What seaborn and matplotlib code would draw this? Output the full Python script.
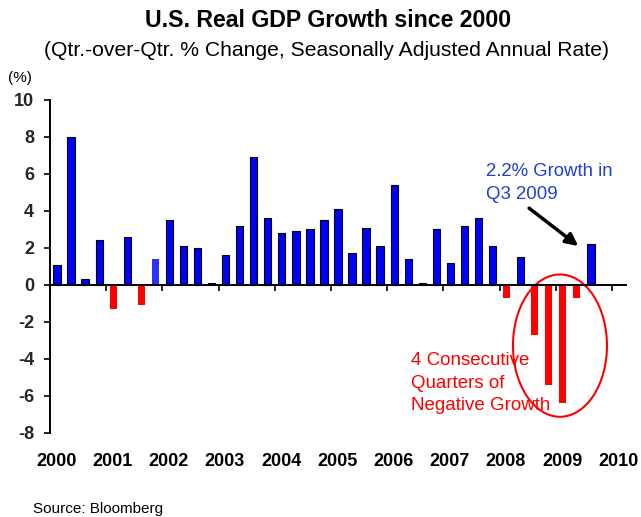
import numpy as np
import pandas as pd
import matplotlib
matplotlib.use("Agg")
import matplotlib.pyplot as plt
import matplotlib.transforms as mtransforms
from matplotlib.patches import Ellipse
import seaborn as sns

# ---- data ----
growth = [1.1, 8.0, 0.3, 2.4, -1.3, 2.6, -1.1, 1.4,
          3.5, 2.1, 2.0, 0.1, 1.6, 3.2, 6.9, 3.6,
          2.8, 2.9, 3.0, 3.5, 4.1, 1.7, 3.1, 2.1,
          5.4, 1.4, 0.1, 3.0, 1.2, 3.2, 3.6, 2.1,
          -0.7, 1.5, -2.7, -5.4, -6.4, -0.7, 2.2]
kinds = ["pos" if v >= 0 else "neg" for v in growth]
kinds[7] = "pos_light"
years = [2000, 2001, 2002, 2003, 2004, 2005, 2006, 2007, 2008, 2009, 2010]
yticks = [-8, -6, -4, -2, 0, 2, 4, 6, 8, 10]

quarter_pos = [i + 0.5 for i in range(len(growth))]
df = pd.DataFrame({"pos": quarter_pos, "growth": growth, "kind": kinds})

sns.set_theme(style="white")
plt.rcParams["font.family"] = ["Liberation Sans", "DejaVu Sans"]

W, H = 641, 517
fig = plt.figure(figsize=(W / 100, H / 100), dpi=100)
ax = fig.add_axes([50 / W, 1 - 432.7 / H, (626 - 50) / W, (432.7 - 100) / H])

palette = {"pos": "#0000FF", "pos_light": "#2E2EFF", "neg": "#FF0000"}
sns.barplot(data=df, x="pos", y="growth", hue="kind", palette=palette,
            native_scale=True, dodge=False, width=0.52, saturation=1,
            legend=False, ax=ax)

for p in ax.patches:
    fc = p.get_facecolor()
    if fc[2] > 0.99 and fc[0] < 0.05:
        p.set_edgecolor("black")
        p.set_linewidth(0.8)
    else:
        p.set_edgecolor("none")
        p.set_linewidth(0)

ax.set_xlim(0, 41)
ax.set_ylim(-8, 10)
ax.set_xlabel("")
ax.set_ylabel("")

for s in ["top", "right"]:
    ax.spines[s].set_visible(False)
ax.spines["bottom"].set_position(("data", 0))
ax.spines["bottom"].set_color("black")
ax.spines["bottom"].set_linewidth(1.4)
ax.spines["left"].set_color("black")
ax.spines["left"].set_linewidth(1.4)
ax.set_zorder(1)

year_pos = [4 * i for i in range(len(years))]
ax.set_xticks(year_pos)
ax.set_xticklabels([""] * len(years))
ax.tick_params(axis="x", direction="out", length=4.5, width=1.2, color="black", bottom=True)
ax.set_yticks(yticks)
ax.set_yticklabels([str(t) for t in yticks], fontsize=13, fontweight="bold")
ax.tick_params(axis="y", direction="out", length=4.5, width=1.2, color="black", pad=7, left=True)

trans = mtransforms.blended_transform_factory(ax.transData, ax.transAxes)
for yp, yr in zip(year_pos, years):
    ax.text(yp + 0.45, -0.088, str(yr), transform=trans, ha="center", va="center",
            fontsize=13, fontweight="bold", color="black")

# annotations
ax.text(31.0, 5.88, "2.2% Growth in", color="#1F3FD6", fontsize=13.4, va="baseline", ha="left")
ax.text(31.0, 4.67, "Q3 2009", color="#1F3FD6", fontsize=13.4, va="baseline", ha="left")
ax.annotate("", xy=(37.6, 2.1), xytext=(34.1, 4.15),
            arrowprops=dict(arrowstyle="-|>,head_length=0.6,head_width=0.3",
                            color="black", lw=2.5, shrinkA=0, shrinkB=0))

for yv, line in zip([-4.34, -5.56, -6.78], ["4 Consecutive", "Quarters of", "Negative Growth"]):
    ax.text(25.7, yv, line, color="#FF0000", fontsize=13.5, va="baseline", ha="left")
ax.add_patch(Ellipse((36.3, -3.29), 6.69, 7.7, fill=False, edgecolor="#FF0000", lw=1.5))

# titles and notes
fig.text(328 / W, 1 - 27 / H, "U.S. Real GDP Growth since 2000", ha="center", va="baseline",
         fontsize=16.7, fontweight="bold", color="black")
fig.text(326 / W, 1 - 56 / H, "(Qtr.-over-Qtr. % Change, Seasonally Adjusted Annual Rate)",
         ha="center", va="baseline", fontsize=15.2, color="black")
fig.text(8 / W, 1 - 78 / H, "(%)", ha="left", va="center", fontsize=11, color="black")
fig.text(33 / W, 1 - 513 / H, "Source: Bloomberg", ha="left", va="baseline", fontsize=11, color="black")

fig.savefig("out.png", dpi=100)
